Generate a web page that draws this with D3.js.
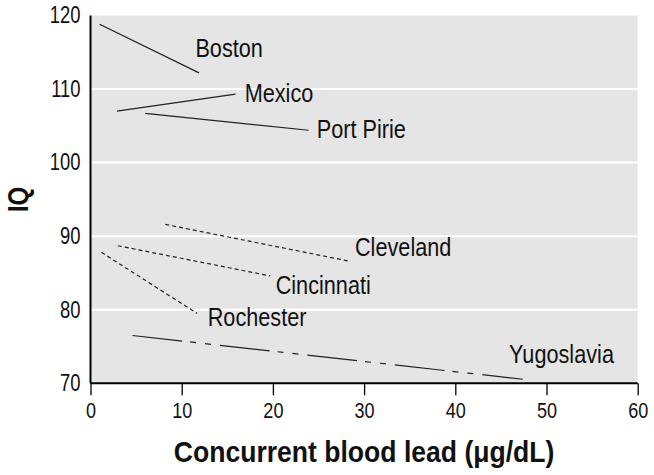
<!DOCTYPE html>
<html>
<head>
<meta charset="utf-8">
<script src="https://cdn.jsdelivr.net/npm/d3@7"></script>
<style>
  html, body { margin: 0; padding: 0; background: #fff; }
  svg { display: block; }
  text { font-family: "Liberation Sans", Arial, sans-serif; fill: #111; }
</style>
</head>
<body>
<svg id="chart" width="654" height="475"></svg>
<script>
// ---- data ----
const studies = ["Boston", "Mexico", "Port Pirie", "Cleveland", "Cincinnati", "Rochester", "Yugoslavia"];
const leadStart = [1.0, 2.9, 6.0, 8.2, 3.0, 1.2, 4.6];
const leadEnd   = [11.9, 15.9, 23.9, 28.4, 19.7, 11.7, 47.4];
const iqStart   = [118.8, 107.0, 106.7, 91.6, 88.7, 87.8, 76.5];
const iqEnd     = [112.2, 109.3, 104.4, 86.6, 84.6, 79.5, 70.55];
const lineStyle = ["solid", "solid", "solid", "dotted", "dotted", "dotted", "dashdot"];
// label anchors (data units)
const labelLead = [11.5, 16.9, 24.8, 29.0, 20.3, 12.85, 45.9];
const labelIQ   = [114.35, 108.3, 103.4, 87.3, 82.2, 77.75, 72.7];
const xTicks = [0, 10, 20, 30, 40, 50, 60];
const yTicks = [70, 80, 90, 100, 110, 120];
const xTitle = "Concurrent blood lead (\u03bcg/dL)";
const yTitle = "IQ";

// ---- layout ----
const svg = d3.select("#chart");
const margin = { left: 90.5, top: 15.5, right: 16.3, bottom: 91.7 };
const W = 654 - margin.left - margin.right;
const H = 475 - margin.top - margin.bottom;

const x = d3.scaleLinear().domain([0, 60]).range([0, W]);
const y = d3.scaleLinear().domain([70, 120]).range([H, 0]);

// condense text horizontally to mimic a condensed typeface
function condense(sel, factor) {
  sel.each(function () {
    const len = this.getComputedTextLength();
    d3.select(this).attr("textLength", len * factor).attr("lengthAdjust", "spacingAndGlyphs");
  });
}

const g = svg.append("g").attr("transform", `translate(${margin.left},${margin.top})`);

// background
g.append("rect").attr("x", 0).attr("y", 0).attr("width", W).attr("height", H).attr("fill", "#e5e5e5");

// gridlines
g.selectAll("line.grid").data(yTicks.filter(v => v > 70 && v < 120)).join("line")
  .attr("class", "grid")
  .attr("x1", 0).attr("x2", W)
  .attr("y1", d => y(d)).attr("y2", d => y(d))
  .attr("stroke", "#fff").attr("stroke-width", 2);

// series lines
const dashes = { solid: null, dotted: "4,3", dashdot: "50,8,6,9,6,9" };
const rows = studies.map((s, i) => ({ s, i }));
g.selectAll("line.series").data(rows).join("line")
  .attr("class", "series")
  .attr("x1", d => x(leadStart[d.i])).attr("y1", d => y(iqStart[d.i]))
  .attr("x2", d => x(leadEnd[d.i])).attr("y2", d => y(iqEnd[d.i]))
  .attr("stroke", "#222").attr("stroke-width", 1.2)
  .attr("stroke-dasharray", d => dashes[lineStyle[d.i]]);

// labels
g.selectAll("text.lab").data(rows).join("text")
  .attr("class", "lab")
  .attr("x", d => x(labelLead[d.i])).attr("y", d => y(labelIQ[d.i]))
  .attr("font-size", 25.5)
  .text(d => d.s)
  .call(condense, 0.85);

// x axis
const xAxis = g.append("g").attr("transform", `translate(0,${H})`)
  .call(d3.axisBottom(x).tickValues(xTicks).tickSize(12).tickPadding(7).tickFormat(d3.format("d")));
xAxis.select(".domain").attr("stroke", "#000").attr("stroke-width", 2).attr("d", `M0,0H${W}`);
xAxis.selectAll(".tick line").attr("stroke", "#000").attr("stroke-width", 1.3);
xAxis.selectAll(".tick text").attr("font-size", 22).attr("fill", "#111").attr("font-family", null)
  .call(condense, 0.82);

// y axis
const yAxis = g.append("g")
  .call(d3.axisLeft(y).tickValues(yTicks).tickSize(0).tickPadding(10).tickFormat(d3.format("d")));
yAxis.select(".domain").attr("stroke", "#000").attr("stroke-width", 2).attr("d", `M0,0V${H}`);
yAxis.selectAll(".tick text").attr("font-size", 23).attr("fill", "#111").attr("font-family", null)
  .call(condense, 0.8);

// axis titles
svg.append("text")
  .attr("x", margin.left + W / 2).attr("y", 462)
  .attr("text-anchor", "middle")
  .attr("font-size", 30).attr("font-weight", "bold")
  .text(xTitle)
  .call(condense, 0.885);

svg.append("text")
  .attr("transform", `translate(28,${margin.top + H / 2}) rotate(-90)`)
  .attr("text-anchor", "middle")
  .attr("font-size", 30).attr("font-weight", "bold")
  .text(yTitle)
  .call(condense, 0.8);
</script>
</body>
</html>
